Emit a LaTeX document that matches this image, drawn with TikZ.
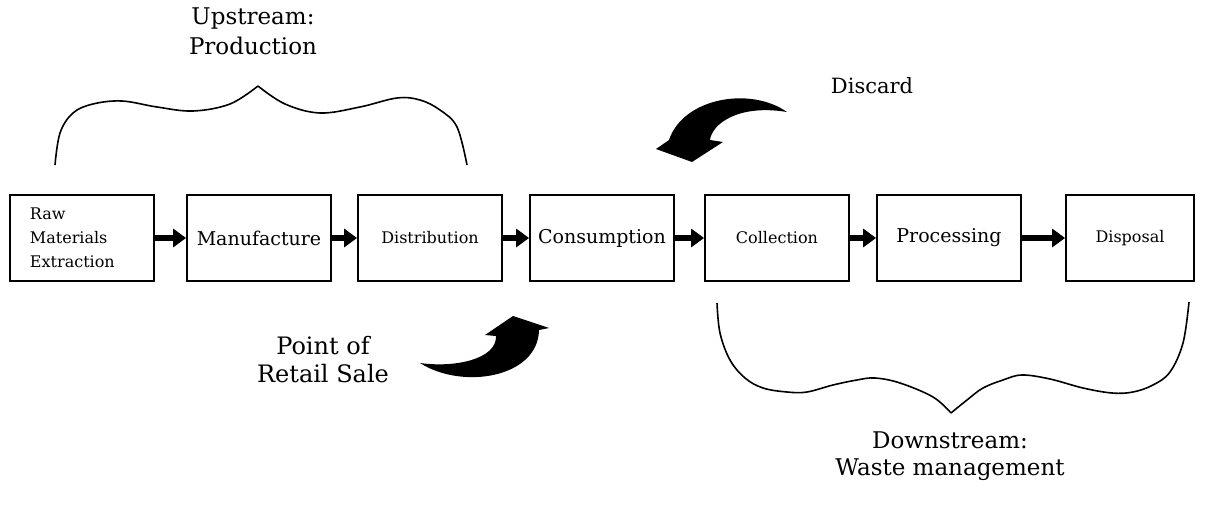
\documentclass[tikz,border=0pt]{standalone}
\usepackage{fontspec}
\setmainfont{DejaVu Serif}
\usepackage{tikz}
\usetikzlibrary{arrows.meta}
\tikzstyle{stage} = [rectangle, minimum width=72pt, minimum height=43pt, text centered, draw=black, line width=0.9pt, inner sep=2pt]
\tikzstyle{flow} = [line width=3.2pt, -{Triangle[length=6.5pt, width=9pt]}]
\tikzstyle{brace} = [line width=0.8pt, line join=round]
\tikzstyle{note} = [align=center, font=\fontsize{11.5}{15}\selectfont]

\begin{document}
\begin{tikzpicture}[x=0.5pt, y=-0.5pt, node distance=87pt,
  every node/.style={font=\fontsize{9.5}{12}\selectfont}]
\useasboundingbox (0,0) rectangle (1206,508);

% --------- Chain of stages ----------
\node (RAW)  [stage, text width=52pt, align=left, font=\fontsize{8}{12}\selectfont] at (82,238) {Raw\\Materials\\Extraction};
\node (MANU) [stage, right of=RAW, xshift=1.5pt] {Manufacture};
\node (DIST) [stage, right of=MANU, xshift=-1.5pt, font=\fontsize{8}{10}\selectfont] {Distribution};
\node (CONS) [stage, right of=DIST, xshift=-1pt] {Consumption};
\node (COLL) [stage, right of=CONS, xshift=0.5pt, font=\fontsize{8}{10}\selectfont] {Collection};
\node (PROC) [stage, right of=COLL, xshift=-1pt] {Processing};
\node (DISP) [stage, right of=PROC, xshift=3.5pt, minimum width=64pt, font=\fontsize{8}{10}\selectfont] {Disposal};

\draw [flow] (RAW.east)  -- (MANU.west);
\draw [flow] (MANU.east) -- (DIST.west);
\draw [flow] (DIST.east) -- (CONS.west);
\draw [flow] (CONS.east) -- (COLL.west);
\draw [flow] (COLL.east) -- (PROC.west);
\draw [flow] (PROC.east) -- (DISP.west);

% --------- Upstream brace ----------
\draw [brace] plot[smooth, tension=0.6] coordinates {(55,165) (60,133) (73,113) (93,104) (122,101) (157,107) (193,111) (230,104) (258,86)}
  plot[smooth, tension=0.6] coordinates {(258,86) (285,104) (320,113) (360,107) (397,98) (420,100) (440,110) (457,127) (467,165)};
\node (UP) [note] at (253,31) {Upstream:\\Production};

% --------- Downstream brace ----------
\draw [brace] plot[smooth, tension=0.6] coordinates {(717,303) (720,333) (730,360) (745,378) (763,388) (787,392) (807,392) (833,385) (857,380) (875,378) (900,383) (933,397) (951,413)}
  plot[smooth, tension=0.6] coordinates {(951,413) (967,400) (983,388) (1003,380) (1022,375) (1050,379) (1083,388) (1112,393) (1133,392) (1153,385) (1170,372) (1183,343) (1189,302)};
\node (DOWN) [note, font=\fontsize{11.5}{13.5}\selectfont] at (950,456) {Downstream:\\Waste management};

% --------- Discard / point of sale ----------
\fill (787,112) .. controls (750,86) and (683,98) .. (669,140) -- (656,149) -- (692,162) -- (723,142) -- (710,140)
  .. controls (712,124) and (738,104) .. (787,112) -- cycle;
\node (DISC) [note, font=\fontsize{10.5}{13}\selectfont] at (872,86) {Discard};

\fill (420,363) .. controls (462,390) and (538,378) .. (539,330) -- (549,328) -- (513,316) -- (485,335) -- (496,336)
  .. controls (497,359) and (455,368) .. (420,363) -- cycle;
\node (SALE) [note, font=\fontsize{12}{14}\selectfont] at (323,360) {Point of\\Retail Sale};

\end{tikzpicture}
\end{document}
